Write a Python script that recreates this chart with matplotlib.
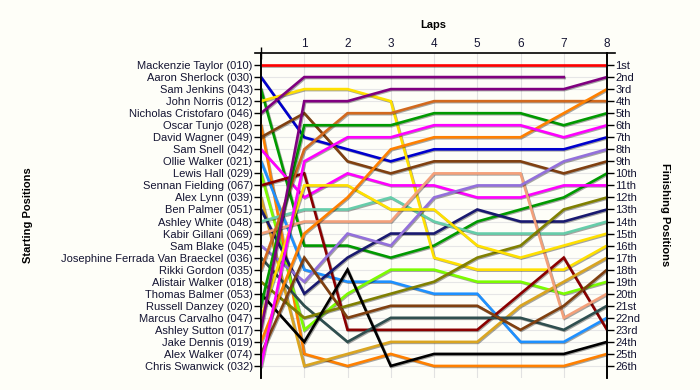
import numpy as np
import matplotlib
matplotlib.use('Agg')
import matplotlib.pyplot as plt
import matplotlib.patheffects as pe

plt.rcParams['font.family'] = ['Liberation Sans', 'DejaVu Sans']

# Datos: pilotos, numeros y posicion en cada vuelta (vuelta 0 = salida)
drivers = ['Mackenzie Taylor', 'Aaron Sherlock', 'Sam Jenkins', 'John Norris',
           'Nicholas Cristofaro', 'Oscar Tunjo', 'David Wagner', 'Sam Snell',
           'Ollie Walker', 'Lewis Hall', 'Sennan Fielding', 'Alex Lynn',
           'Ben Palmer', 'Ashley White', 'Kabir Gillani', 'Sam Blake',
           'Josephine Ferrada Van Braeckel', 'Rikki Gordon', 'Alistair Walker',
           'Thomas Balmer', 'Russell Danzey', 'Marcus Carvalho', 'Ashley Sutton',
           'Jake Dennis', 'Alex Walker', 'Chris Swanwick']
car_numbers = ['010', '030', '043', '012', '046', '028', '049', '042', '021', '029',
               '067', '039', '051', '048', '069', '045', '036', '035', '018', '053',
               '020', '047', '017', '019', '074', '032']
laps = [0, 1, 2, 3, 4, 5, 6, 7, 8]
lap_positions = [
    [1, 1, 1, 1, 1, 1, 1, 1, 1],
    [2, 7, 8, 9, 8, 8, 8, 8, 7],
    [3, 16, 16, 17, 16, 14, 13, 12, 10],
    [4, 3, 3, 4, 17, 18, 18, 18, 16],
    [5, 2, 2, 2, 2, 2, 2, 2, None],
    [6, 25, 26, 25, 26, 26, 26, 26, 25],
    [7, 5, 9, 10, 9, 9, 9, 10, 9],
    [8, 12, 10, 11, 11, 12, 12, 11, 11],
    [9, 18, 19, 19, 20, 20, 24, 24, 22],
    [10, 23, 20, 18, 18, 19, 19, 20, 19],
    [11, 10, 23, 23, 23, 23, 20, 17, 23],
    [12, 26, 25, 24, 24, 24, 21, 19, 17],
    [13, 20, 17, 15, 15, 13, 14, 14, 13],
    [14, 13, 13, 12, 14, 15, 15, 15, 14],
    [15, 14, 14, 14, 10, 10, 10, 22, 20],
    [16, 19, 15, 16, 12, 11, 11, 9, 8],
    [17, 21, 24, 22, 22, 22, 22, 23, 21],
    [18, 8, 5, 5, 4, 4, 4, 4, 4],
    [19, 22, 21, 20, 19, 17, 16, 13, 12],
    [20, 24, 18, 26, 25, 25, 25, 25, 24],
    [21, 6, 6, 6, 5, 5, 5, 6, 5],
    [22, 11, 11, 13, 13, 16, 17, 16, 15],
    [23, 4, 4, 3, 3, 3, 3, 3, 2],
    [24, 15, 12, 8, 7, 7, 7, 5, 3],
    [25, 17, 22, 21, 21, 21, 23, 21, 18],
    [26, 9, 7, 7, 6, 6, 6, 7, 6],
]
colors = ['#ff0000', '#0000cd', '#009a00', '#ffe000', '#800080', '#ff8000',
          '#804010', '#ff00ff', '#1e90ff', '#7cfc00', '#8b0000', '#daa520',
          '#191970', '#66cdaa', '#f4a07a', '#9370db', '#2f4f4f', '#d2691e',
          '#808000', '#000000', '#009a00', '#ffe000', '#800080', '#ff8000',
          '#804010', '#ff00ff']

n = len(drivers)
bg = '#fefef8'
txt = '#141432'


def ordinal(k):
    if 10 <= k % 100 <= 20:
        suf = 'th'
    else:
        suf = {1: 'st', 2: 'nd', 3: 'rd'}.get(k % 10, 'th')
    return f'{k}{suf}'


fig = plt.figure(figsize=(7, 3.9), dpi=100, facecolor=bg)
ax = fig.add_axes([261 / 700, 1 - 378 / 390, 346 / 700, 325 / 390])
ax.set_facecolor(bg)

for pos, c in zip(lap_positions, colors):
    y = np.array([np.nan if p is None else p for p in pos], dtype=float)
    ax.plot(laps, y, color=c, lw=1.9, solid_joinstyle='miter', zorder=3,
            path_effects=[pe.SimpleLineShadow(offset=(0.7, -0.7), alpha=0.35),
                          pe.Normal()])

ax.set_xlim(0, 8)
ax.set_ylim(n + 1, 0)

# rejilla
for k in range(1, n + 1):
    ax.axhline(k, color='#e6e6e6', lw=0.8, zorder=1)
for k in range(1, 9):
    ax.axvline(k, color='#e2e2e2', lw=0.8, zorder=1)

# eje superior
ax.xaxis.tick_top()
ax.set_xticks(range(1, 9))
ax.set_xticklabels([str(k) for k in range(1, 9)], fontsize=8.5, color=txt)
ax.tick_params(axis='x', length=0, pad=2)
ax.set_xticks([0, 8], minor=True)
ax.tick_params(axis='x', which='minor', direction='inout', length=8, width=1, top=True)
ax.plot([-0.018, 1.024], [1, 1], transform=ax.transAxes, color='black', lw=1.2,
        clip_on=False, zorder=5)

# eje izquierdo
ax.set_yticks(range(1, n + 1))
ax.set_yticklabels([f'{d} ({c})' for d, c in zip(drivers, car_numbers)],
                   fontsize=8, color=txt)
ax.tick_params(axis='y', direction='out', length=5, width=1, pad=1)

# eje derecho
ax2 = ax.twinx()
ax2.set_ylim(n + 1, 0)
ax2.set_yticks(range(1, n + 1))
ax2.set_yticklabels([ordinal(k) for k in range(1, n + 1)], fontsize=8, color=txt)
ax2.tick_params(axis='y', direction='out', length=5, width=1, pad=1)

for a in (ax, ax2):
    a.spines['top'].set_visible(False)
    a.spines['bottom'].set_visible(False)
    a.spines['left'].set_linewidth(1.2)
    a.spines['right'].set_linewidth(1.2)

fig.text(433 / 700, 1 - 25 / 390, 'Laps', ha='center', va='center',
         fontsize=8, fontweight='bold', color='black')
fig.text(28 / 700, 1 - 215 / 390, 'Starting Positions', ha='center', va='center',
         rotation=90, fontsize=8, fontweight='bold', color='black')
fig.text(665 / 700, 1 - 215 / 390, 'Finishing Positions', ha='center', va='center',
         rotation=270, fontsize=8, fontweight='bold', color='black')

plt.savefig('out.png', dpi=100, facecolor=bg)
